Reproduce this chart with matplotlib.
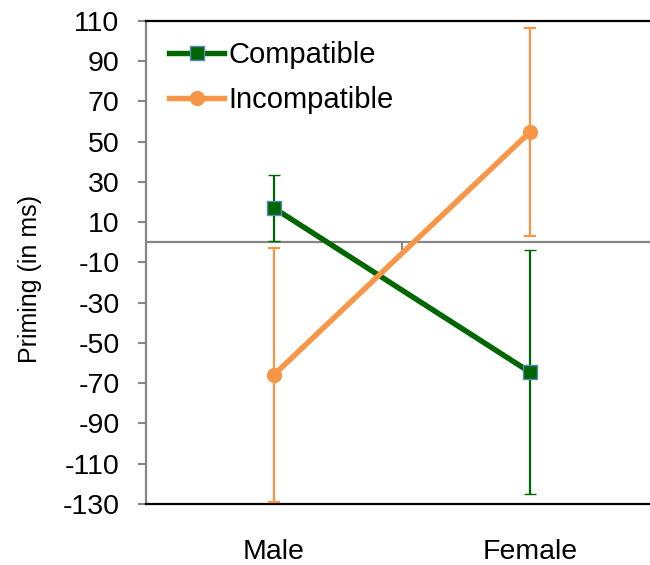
import matplotlib
matplotlib.use('Agg')
import matplotlib.pyplot as plt

plt.rcParams['font.family'] = ['Liberation Sans', 'DejaVu Sans']
plt.rcParams['axes.unicode_minus'] = False

groups = ['Male', 'Female']
compatible = [17.0, -64.5]
compatible_err = [16.5, 60.6]
incompatible = [-65.8, 54.8]
incompatible_err = [63.0, 51.6]
y_ticks = list(range(-130, 111, 20))

GREEN = '#006600'
ORANGE = '#F79646'
GRAY = '#868686'

fig = plt.figure(figsize=(6.5, 5.65), dpi=100)
ax = fig.add_axes([0.2246, 0.108, 0.7877, 0.855])

x = list(range(len(groups)))

comp = ax.errorbar(x, compatible, yerr=compatible_err, color=GREEN, lw=3.9,
                   elinewidth=1.6, capsize=4.6, capthick=1.6,
                   marker='s', markersize=10.5, markerfacecolor=GREEN,
                   markeredgecolor='#5b86c0', markeredgewidth=1.0,
                   label='Compatible', zorder=3)
incomp = ax.errorbar(x, incompatible, yerr=incompatible_err, color=ORANGE, lw=3.9,
                     elinewidth=1.6, capsize=4.4, capthick=1.6,
                     marker='o', markersize=10, markerfacecolor=ORANGE,
                     markeredgecolor=ORANGE,
                     label='Incompatible', zorder=4)

ax.axhline(0, color=GRAY, lw=1.6, zorder=1)

ax.set_xlim(-0.5, 1.5)
ax.set_ylim(-130, 110)
ax.set_yticks(y_ticks)
ax.set_xticks(x)
ax.set_xticklabels(groups)
ax.tick_params(axis='x', length=0, pad=25, labelsize=20.5)
ax.tick_params(axis='y', direction='out', length=6, width=1.5, color=GRAY,
               pad=13, labelsize=20.5)

ax.set_ylabel('Priming (in ms)', fontsize=18)
ax.yaxis.set_label_coords(-0.203, 0.465)

for side in ['top', 'bottom']:
    ax.spines[side].set_color('black')
    ax.spines[side].set_linewidth(1.6)
ax.spines['left'].set_color(GRAY)
ax.spines['left'].set_linewidth(1.6)
ax.spines['right'].set_visible(False)

# tick between the two categories on the zero line
y0 = (0 - ax.get_ylim()[0]) / (ax.get_ylim()[1] - ax.get_ylim()[0])
zero_axis = ax.secondary_xaxis(y0)
zero_axis.set_xticks([0.5])
zero_axis.set_xticklabels([])
for s in zero_axis.spines.values():
    s.set_visible(False)
zero_axis.xaxis.set_ticks_position('bottom')
zero_axis.tick_params(direction='out', length=6, width=1.5, color=GRAY)

ax.legend(handles=[comp[0], incomp[0]], labels=['Compatible', 'Incompatible'],
          loc='upper left', frameon=False, fontsize=21,
          handlelength=1.9, handletextpad=0.15, labelspacing=0.6,
          borderaxespad=0.0, bbox_to_anchor=(0.022, 0.983))

fig.savefig('out.png', dpi=100)
